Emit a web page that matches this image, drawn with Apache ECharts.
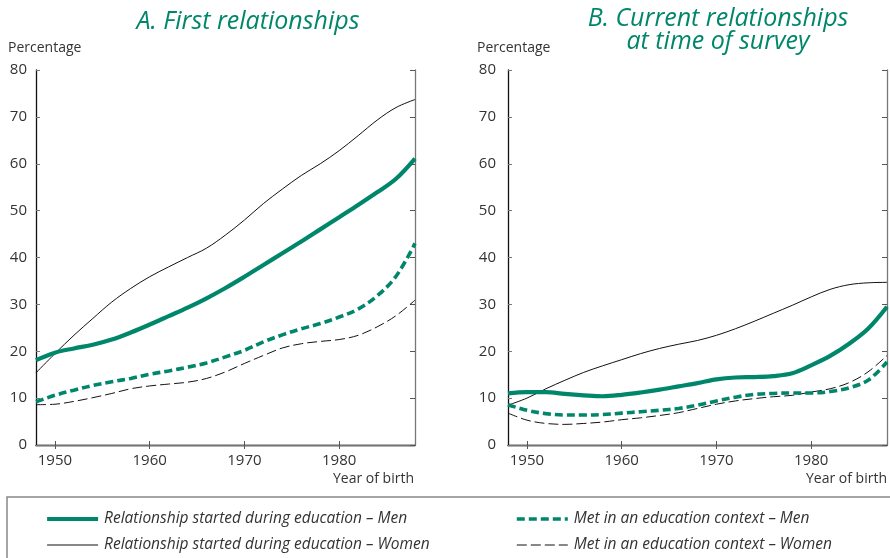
<!DOCTYPE html>
<html><head><meta charset="utf-8">
<script src="https://cdn.jsdelivr.net/npm/echarts@6/dist/echarts.min.js"></script>
<style>html,body{margin:0;padding:0;background:#fff}#c{width:890px;height:558px}</style>
</head><body><div id="c"></div>
<script>
// Data (year of birth, percentage)
const years = [1948,1950,1952,1954,1956,1958,1960,1962,1964,1966,1968,1970,1972,1974,1976,1978,1980,1982,1984,1986,1988];
const firstMenStarted   = [18.1,19.7,20.6,21.4,22.5,24.0,25.7,27.5,29.3,31.3,33.5,35.9,38.4,40.9,43.4,46.0,48.6,51.2,53.9,56.8,61.1];
const firstWomenStarted = [15.4,19.5,23.4,27.0,30.5,33.4,35.9,38.0,40.0,42.0,44.8,48.0,51.5,54.6,57.5,60.0,62.8,66.0,69.3,72.0,73.7];
const firstMenMet       = [9.2,10.6,11.7,12.7,13.5,14.2,15.1,15.8,16.6,17.5,18.8,20.2,22.0,23.5,24.8,25.9,27.3,29.0,31.8,36.0,43.0];
const firstWomenMet     = [8.6,8.7,9.3,10.1,11.0,12.0,12.6,13.0,13.4,14.2,15.6,17.4,19.1,20.7,21.6,22.1,22.5,23.4,25.2,27.6,30.9];
const currMenStarted    = [11.0,11.3,11.3,10.9,10.6,10.4,10.7,11.2,11.8,12.5,13.2,14.0,14.4,14.5,14.7,15.3,17.0,19.0,21.6,24.8,29.5];
const currWomenStarted  = [8.5,10.0,12.0,13.8,15.5,16.9,18.2,19.5,20.6,21.5,22.3,23.4,24.8,26.4,28.1,29.8,31.6,33.2,34.2,34.6,34.7];
const currMenMet        = [8.6,7.4,6.7,6.4,6.4,6.5,6.8,7.1,7.4,7.8,8.5,9.4,10.2,10.8,11.0,11.1,11.1,11.4,12.2,13.8,17.7];
const currWomenMet      = [6.8,5.3,4.6,4.4,4.6,4.9,5.4,5.8,6.3,6.9,7.8,8.7,9.4,9.9,10.3,10.6,11.3,12.0,13.3,15.6,19.1];
const xTicks = [1950,1960,1970,1980];
const panelTitles = ['A. First relationships', 'B. Current relationships\nat time of survey'];
const names = ['Relationship started during education – Men','Relationship started during education – Women','Met in an education context – Men','Met in an education context – Women'];

const GREEN = '#00876b';
const FONT = 'Open Sans';
const pair = arr => years.map((y,i)=>[y,arr[i]]);

const styles = [
  {color:GREEN, width:4.2, type:'solid'},
  {color:'#111', width:1, type:'solid'},
  {color:GREEN, width:3.6, type:[8,4]},
  {color:'#111', width:1, type:[10,4]}
];
const panels = [
  [firstMenStarted, firstWomenStarted, firstMenMet, firstWomenMet],
  [currMenStarted, currWomenStarted, currMenMet, currWomenMet]
];
const grids = [
  {left:36, top:70, width:379, height:375},
  {left:508, top:70, width:379, height:375}
];

const xAxis = [], yAxis = [], series = [];
grids.forEach((g,gi)=>{
  xAxis.push({type:'value', gridIndex:gi, min:1948, max:1988, position:'bottom',
    axisLine:{lineStyle:{color:'#111', width:1.3}},
    axisTick:{inside:true, length:4, customValues:xTicks, lineStyle:{color:'#555'}},
    axisLabel:{customValues:xTicks, formatter:v=>String(v), color:'#333', fontSize:15, fontFamily:FONT, margin:8},
    splitLine:{show:false}});
  xAxis.push({type:'value', gridIndex:gi, min:1948, max:1988, position:'top',
    axisLine:{lineStyle:{color:'#777', width:1.3}},
    axisTick:{inside:true, length:4, customValues:xTicks, lineStyle:{color:'#555'}},
    axisLabel:{show:false}, splitLine:{show:false}});
  yAxis.push({type:'value', gridIndex:gi, min:0, max:80, interval:10, position:'left',
    axisLine:{show:true, lineStyle:{color:'#111', width:1.3}},
    axisTick:{show:true, inside:true, length:4, lineStyle:{color:'#777'}},
    axisLabel:{color:'#333', fontSize:15, fontFamily:FONT, margin: gi===0?9:12},
    splitLine:{show:false}});
  yAxis.push({type:'value', gridIndex:gi, min:0, max:80, interval:10, position:'right',
    axisLine:{show:true, lineStyle:{color:'#777', width:1.3}},
    axisTick:{show:true, inside:true, length:5, lineStyle:{color:'#555'}},
    axisLabel:{show:false}, splitLine:{show:false}});
  panels[gi].forEach((arr,si)=>{
    series.push({type:'line', name:names[si], xAxisIndex:gi*2, yAxisIndex:gi*2,
      data:pair(arr), smooth:0.35, symbol:'none', silent:true, z: si<2? 3-si : 5-si,
      lineStyle:{color:styles[si].color, width:styles[si].width, type:styles[si].type, cap:'butt'},
      itemStyle:{color:styles[si].color}});
  });
});

const legendItem = i => ({name:names[i], itemStyle:{opacity:0},
  lineStyle:{color:styles[i].color, width:styles[i].width, type:styles[i].type}});
const legendBase = {orient:'vertical', top:506, itemGap:10, itemWidth:51, itemHeight:19, selectedMode:false,
  textStyle:{color:'#333', fontSize:15.5, fontStyle:'italic', fontFamily:FONT, padding:[0,0,0,1]}};

const option = {
  animation:false,
  textStyle:{fontFamily:FONT},
  title:[
    {text:panelTitles[0], left:243, top:2, textAlign:'center',
      textStyle:{color:GREEN, fontSize:25, fontStyle:'italic', fontWeight:'normal', fontFamily:FONT, lineHeight:30}},
    {text:panelTitles[1], left:713, top:2, textAlign:'center',
      textStyle:{color:GREEN, fontSize:25, fontStyle:'italic', fontWeight:'normal', fontFamily:FONT, lineHeight:23}}
  ],
  grid: grids,
  xAxis, yAxis, series,
  legend:[
    Object.assign({}, legendBase, {left:40, data:[legendItem(0), legendItem(1)]}),
    Object.assign({}, legendBase, {left:510, data:[legendItem(2), legendItem(3)]})
  ],
  graphic:[
    {type:'text', left:8, top:41, style:{text:'Percentage', fill:'#333', font:'14px "'+FONT+'"'}},
    {type:'text', left:477, top:41, style:{text:'Percentage', fill:'#333', font:'14px "'+FONT+'"'}},
    {type:'text', right:890-414, top:472, style:{text:'Year of birth', fill:'#333', font:'14px "'+FONT+'"', textAlign:'right'}},
    {type:'text', right:3, top:472, style:{text:'Year of birth', fill:'#333', font:'14px "'+FONT+'"', textAlign:'right'}},
    {type:'rect', shape:{x:7, y:497, width:890, height:70}, style:{fill:'none', stroke:'#888', lineWidth:1.5}}
  ]
};
const chart = echarts.init(document.getElementById('c'), null, {renderer:'canvas'});
chart.setOption(option);
</script></body></html>
